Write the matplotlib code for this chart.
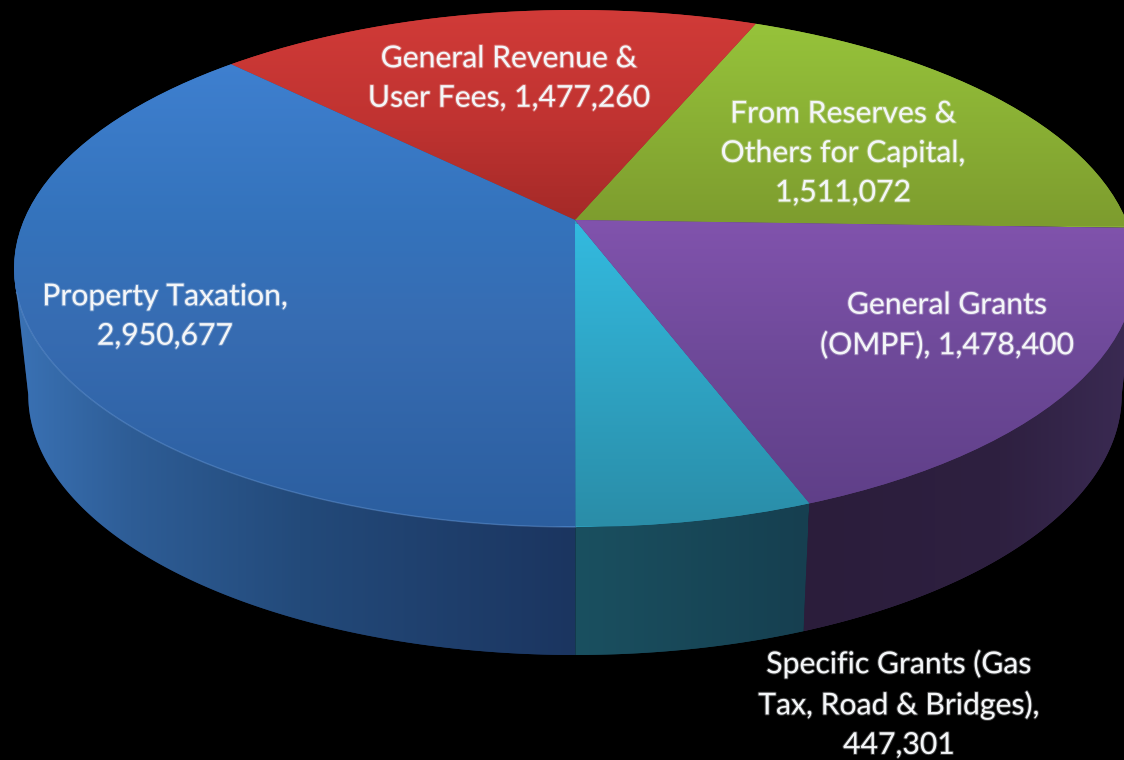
import numpy as np
import matplotlib
matplotlib.use('Agg')
import matplotlib.pyplot as plt
import matplotlib.patheffects as pe
from matplotlib.colors import LinearSegmentedColormap
from matplotlib.patches import Polygon
from matplotlib.path import Path
from matplotlib.transforms import Affine2D, Transform

# slices, counter clockwise from the right hand side of the pie
sources = ['From Reserves & Others for Capital', 'General Revenue & User Fees',
           'Property Taxation', 'Specific Grants (Gas Tax, Road & Bridges)',
           'General Grants (OMPF)']
amounts = [1511072, 1477260, 2950677, 447301, 1478400]
base_colors = ['#87ad35', '#bb3130', '#3570b8', '#2ea2c2', '#6f4a9a']

# (pixel y, colour) stops of the top face
top_shades = [
    [(20, '#97c43b'), (225, '#7d9c2e')],
    [(10, '#d13b38'), (120, '#c03331'), (218, '#a52a28')],
    [(60, '#3f80d0'), (220, '#3473bc'), (330, '#376cb2'), (525, '#2b5e9f')],
    [(225, '#33badf'), (525, '#2a8da8')],
    [(220, '#8153ad'), (350, '#6f4a9a'), (505, '#5f3f88')],
]
# (pixel x, colour) stops of the side wall
wall_shades = [
    None,
    None,
    [(15, '#3a72b5'), (130, '#2e5d96'), (300, '#234a7a'), (575, '#1b3560')],
    [(575, '#1a5060'), (808, '#163f50')],
    [(804, '#2b1d3b'), (1000, '#2e2040'), (1124, '#3a2a52')],
]

label_texts = ['From Reserves &\nOthers for Capital,\n1,511,072',
               'General Revenue &\nUser Fees, 1,477,260',
               'Property Taxation,\n2,950,677',
               'Specific Grants (Gas\nTax, Road & Bridges),\n447,301',
               'General Grants\n(OMPF), 1,478,400']
label_x = [843, 509, 165, 899, 947]
label_y = [153, 78, 316, 704, 325]


class Tilt(Transform):
    # perspective view of the unit disk, far side on top
    input_dims = 2
    output_dims = 2

    def __init__(self, cx, cy, a, b, k):
        super().__init__()
        self.cx, self.cy, self.a, self.b, self.k = cx, cy, a, b, k

    def transform_non_affine(self, xy):
        xy = np.asarray(xy, dtype=float)
        w = 1 + self.k * xy[:, 1]
        return np.column_stack([self.cx + self.a * xy[:, 0] / w,
                                self.cy - self.b * xy[:, 1] / w])

    def transform_path_non_affine(self, path):
        poly = path.to_polygons(Affine2D().scale(500), closed_only=False)[0] / 500
        return Path(self.transform_non_affine(poly))


def shade_map(stops, lo, hi):
    return LinearSegmentedColormap.from_list(
        'shade', [(0, stops[0][1])] + [((p - lo) / (hi - lo), c) for p, c in stops[1:-1]] + [(1, stops[-1][1])])


fig = plt.figure(figsize=(11.24, 7.6), dpi=100, facecolor='black')
ax = fig.add_axes([0, 0, 1, 1])

top = Tilt(575, 220, 551, 249.4, 0.1876)
bottom = Tilt(575, 346, 537, 251, 0.1876)

wedges, _ = ax.pie(amounts, colors=base_colors, startangle=-1.8, counterclock=True)

ax.set_aspect('auto')
ax.axis('off')

# side wall first, the top face covers its hidden part
# 190.8 and 349.2 are the widest points of the tilted disk, where the wall silhouette starts
for wedge, stops in zip(wedges, wall_shades):
    if stops is None:
        continue
    theta = np.radians(np.linspace(max(wedge.theta1, 190.8), min(wedge.theta2, 349.2), 200))
    ring = np.column_stack([np.cos(theta), np.sin(theta)])
    outline = np.vstack([top.transform_non_affine(ring), bottom.transform_non_affine(ring)[::-1]])
    wall = Polygon(outline, closed=True, facecolor=stops[-1][1], edgecolor='none', zorder=1)
    ax.add_patch(wall)
    lo, hi = stops[0][0], stops[-1][0]
    im = ax.imshow(np.linspace(0, 1, 256).reshape(1, -1), cmap=shade_map(stops, lo, hi),
                   extent=[lo, hi, 760, 0], aspect='auto', zorder=1.5, interpolation='bilinear')
    im.set_clip_path(wall)

for wedge, stops in zip(wedges, top_shades):
    wedge.set_transform(top + ax.transData)
    wedge.set_edgecolor('none')
    wedge.set_zorder(2)
    lo, hi = stops[0][0], stops[-1][0]
    im = ax.imshow(np.linspace(0, 1, 256).reshape(-1, 1), cmap=shade_map(stops, lo, hi),
                   extent=[0, 1124, hi + 1, lo - 1], aspect='auto', zorder=2.5, interpolation='bilinear')
    im.set_clip_path(wedge)

ax.set_xlim(0, 1124)
ax.set_ylim(760, 0)

# faint highlight on the front rim of the property taxation slice
rim = np.radians(np.linspace(196, wedges[2].theta2, 200))
rim_xy = top.transform_non_affine(np.column_stack([np.cos(rim), np.sin(rim)]))
ax.plot(rim_xy[:, 0], rim_xy[:, 1], color='#6f9fdc', lw=1.0, alpha=0.4, zorder=3)

for text, x, y in zip(label_texts, label_x, label_y):
    ax.text(x, y, text, color='#f4f6f8', fontsize=21.7, family='Lato', ha='center', va='center',
            linespacing=1.5, zorder=4,
            path_effects=[pe.withStroke(linewidth=1.5, foreground='white', alpha=0.25)])

fig.savefig('out.png', dpi=100, facecolor='black')
